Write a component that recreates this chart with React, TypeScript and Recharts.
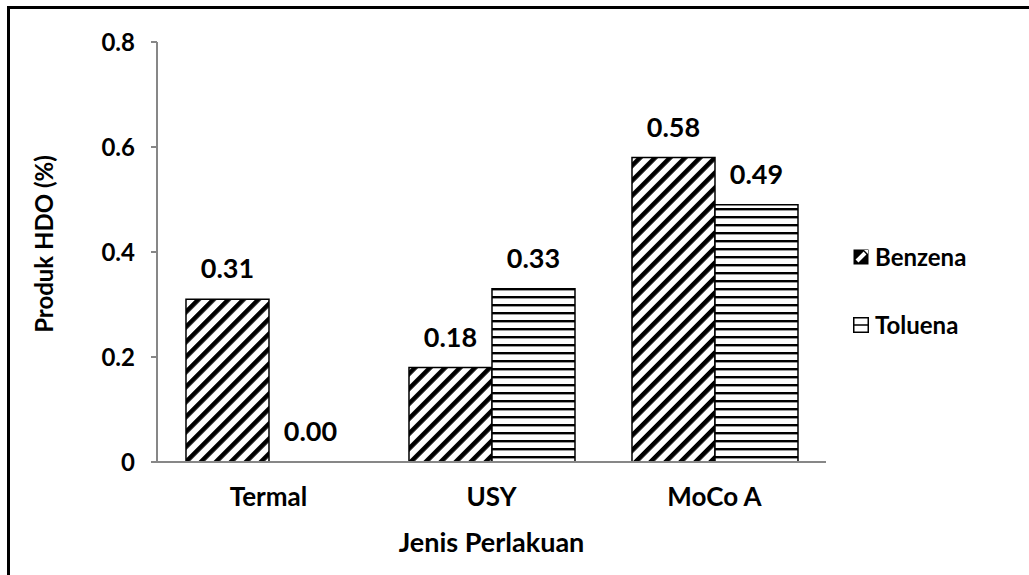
import React from 'react';
import { BarChart, Bar, XAxis, YAxis, LabelList, Cell } from 'recharts';

const categories = ['Termal', 'USY', 'MoCo A'];
const benzena = [0.31, 0.18, 0.58];
const toluena = [0.0, 0.33, 0.49];
const yTicks = [0, 0.2, 0.4, 0.6, 0.8];
const edgeTicks = [0, 1, 2, 3];

const data = categories.map((name, i) => ({ name, benzena: benzena[i], toluena: toluena[i] }));

const FONT = 'Lato, "Noto Sans", sans-serif';
const AXIS_GRAY = '#878787';

// inner baseline axis (ticks between categories) and outer category-name axis
const BASE_AXIS = 'a-base';
const NAME_AXIS = 'b-names';

// zero-valued bars still get a sliver so their value label is placed
const keepZero = (v: any) => (Number(Array.isArray(v) ? v[1] - v[0] : v) === 0 ? 0.01 : 0);

const CategoryTick = (props: any) => {
  const { x, y, payload } = props;
  return (
    <text x={x} y={y} dy={43} textAnchor="middle" fontFamily={FONT} fontWeight={700} fontSize={26} fill="#000">
      {payload.value}
    </text>
  );
};

const YTitle = (props: any) => {
  const vb = props.viewBox || {};
  const cx = (vb.x || 0) + 53;
  const cy = (vb.y || 0) + (vb.height || 0) / 2 - 8;
  return (
    <text
      x={cx}
      y={cy}
      transform={`rotate(-90, ${cx}, ${cy})`}
      textAnchor="middle"
      fontFamily={FONT}
      fontWeight={700}
      fontSize={24}
      fill="#000"
    >
      Produk HDO (%)
    </text>
  );
};

const legendItems = [
  { key: 'benzena', label: 'Benzena' },
  { key: 'toluena', label: 'Toluena' },
];

const LegendIcon = ({ kind }: { kind: string }) =>
  kind === 'benzena' ? (
    <svg width={16} height={16} style={{ display: 'block' }}>
      <rect x={0.5} y={0.5} width={15} height={15} fill="#000" />
      <line x1={4} y1={12} x2={12} y2={4} stroke="#fff" strokeWidth={4} />
      <polygon points="11,1 15,1 15,5" fill="#fff" />
    </svg>
  ) : (
    <svg width={16} height={16} style={{ display: 'block' }}>
      <rect x={0.75} y={0.75} width={14.5} height={14.5} fill="#fff" stroke="#000" strokeWidth={1.5} />
      <line x1={0.75} y1={8} x2={15.25} y2={8} stroke="#000" strokeWidth={1.5} />
    </svg>
  );

const labelStyle = { fontFamily: FONT, fontWeight: 700, fontSize: 27, fill: '#000' };

export default function App() {
  return (
    <div style={{ position: 'absolute', left: 0, top: 0, width: 1029, height: 575, background: '#fff', overflow: 'hidden' }}>
      <div
        style={{
          position: 'absolute',
          left: 7,
          top: 6,
          width: 1100,
          height: 700,
          borderTop: '3px solid #000',
          borderLeft: '3px solid #000',
        }}
      />
      <div style={{ position: 'absolute', left: 0, top: 0 }}>
        <BarChart
          width={1029}
          height={575}
          data={data}
          margin={{ top: 42, right: 203, bottom: 0, left: 0 }}
          barCategoryGap="13%"
          barGap={0}
        >
          <defs>
            <pattern id="benzenaFill" patternUnits="userSpaceOnUse" width={10.6} height={10.6} patternTransform="rotate(45)">
              <rect width={10.6} height={10.6} fill="#fff" />
              <rect width={4.6} height={10.6} fill="#000" />
            </pattern>
            <pattern id="toluenaFill" patternUnits="userSpaceOnUse" width={8} height={8}>
              <rect width={8} height={8} fill="#fff" />
              <rect width={8} height={2.4} fill="#000" />
            </pattern>
          </defs>
          <XAxis
            xAxisId={BASE_AXIS}
            type="number"
            domain={[0, 3]}
            ticks={edgeTicks}
            height={1}
            tick={false}
            tickSize={7}
            axisLine={{ stroke: AXIS_GRAY, strokeWidth: 2 }}
            tickLine={{ stroke: AXIS_GRAY, strokeWidth: 2 }}
          />
          <XAxis
            xAxisId={NAME_AXIS}
            dataKey="name"
            height={112}
            axisLine={false}
            tickLine={false}
            tickSize={0}
            tickMargin={0}
            tick={<CategoryTick />}
            label={{
              value: 'Jenis Perlakuan',
              position: 'insideBottom',
              offset: 23,
              style: { fontFamily: FONT, fontWeight: 700, fontSize: 27, fill: '#000' },
            }}
          />
          <YAxis
            width={157}
            domain={[0, 0.8]}
            ticks={yTicks}
            tickFormatter={(v: number) => (v === 0 ? '0' : v.toFixed(1))}
            tickSize={6}
            tickMargin={16}
            axisLine={{ stroke: AXIS_GRAY, strokeWidth: 2 }}
            tickLine={{ stroke: AXIS_GRAY, strokeWidth: 2 }}
            tick={{ fontFamily: FONT, fontWeight: 700, fontSize: 24, fill: '#000' }}
            label={<YTitle />}
          />
          <Bar
            xAxisId={NAME_AXIS}
            dataKey="benzena"
            name="Benzena"
            fill="url(#benzenaFill)"
            stroke="#000"
            strokeWidth={1.5}
            minPointSize={keepZero}
            isAnimationActive={false}
          >
            {benzena.map((v, i) => (
              <Cell key={i} stroke={v === 0 ? 'none' : '#000'} />
            ))}
            <LabelList dataKey="benzena" position="top" offset={21} formatter={(v: number) => Number(v).toFixed(2)} style={labelStyle} />
          </Bar>
          <Bar
            xAxisId={NAME_AXIS}
            dataKey="toluena"
            name="Toluena"
            fill="url(#toluenaFill)"
            stroke="#000"
            strokeWidth={1.5}
            minPointSize={keepZero}
            isAnimationActive={false}
          >
            {toluena.map((v, i) => (
              <Cell key={i} stroke={v === 0 ? 'none' : '#000'} />
            ))}
            <LabelList dataKey="toluena" position="top" offset={21} formatter={(v: number) => Number(v).toFixed(2)} style={labelStyle} />
          </Bar>
        </BarChart>
      </div>
      {legendItems.map((item, i) => (
        <div
          key={item.key}
          style={{
            position: 'absolute',
            left: 853,
            top: 244 + i * 68,
            display: 'flex',
            alignItems: 'center',
            gap: 6,
            fontFamily: FONT,
            fontWeight: 700,
            fontSize: 24,
            lineHeight: '26px',
            color: '#000',
          }}
        >
          <LegendIcon kind={item.key} />
          <span>{item.label}</span>
        </div>
      ))}
    </div>
  );
}
